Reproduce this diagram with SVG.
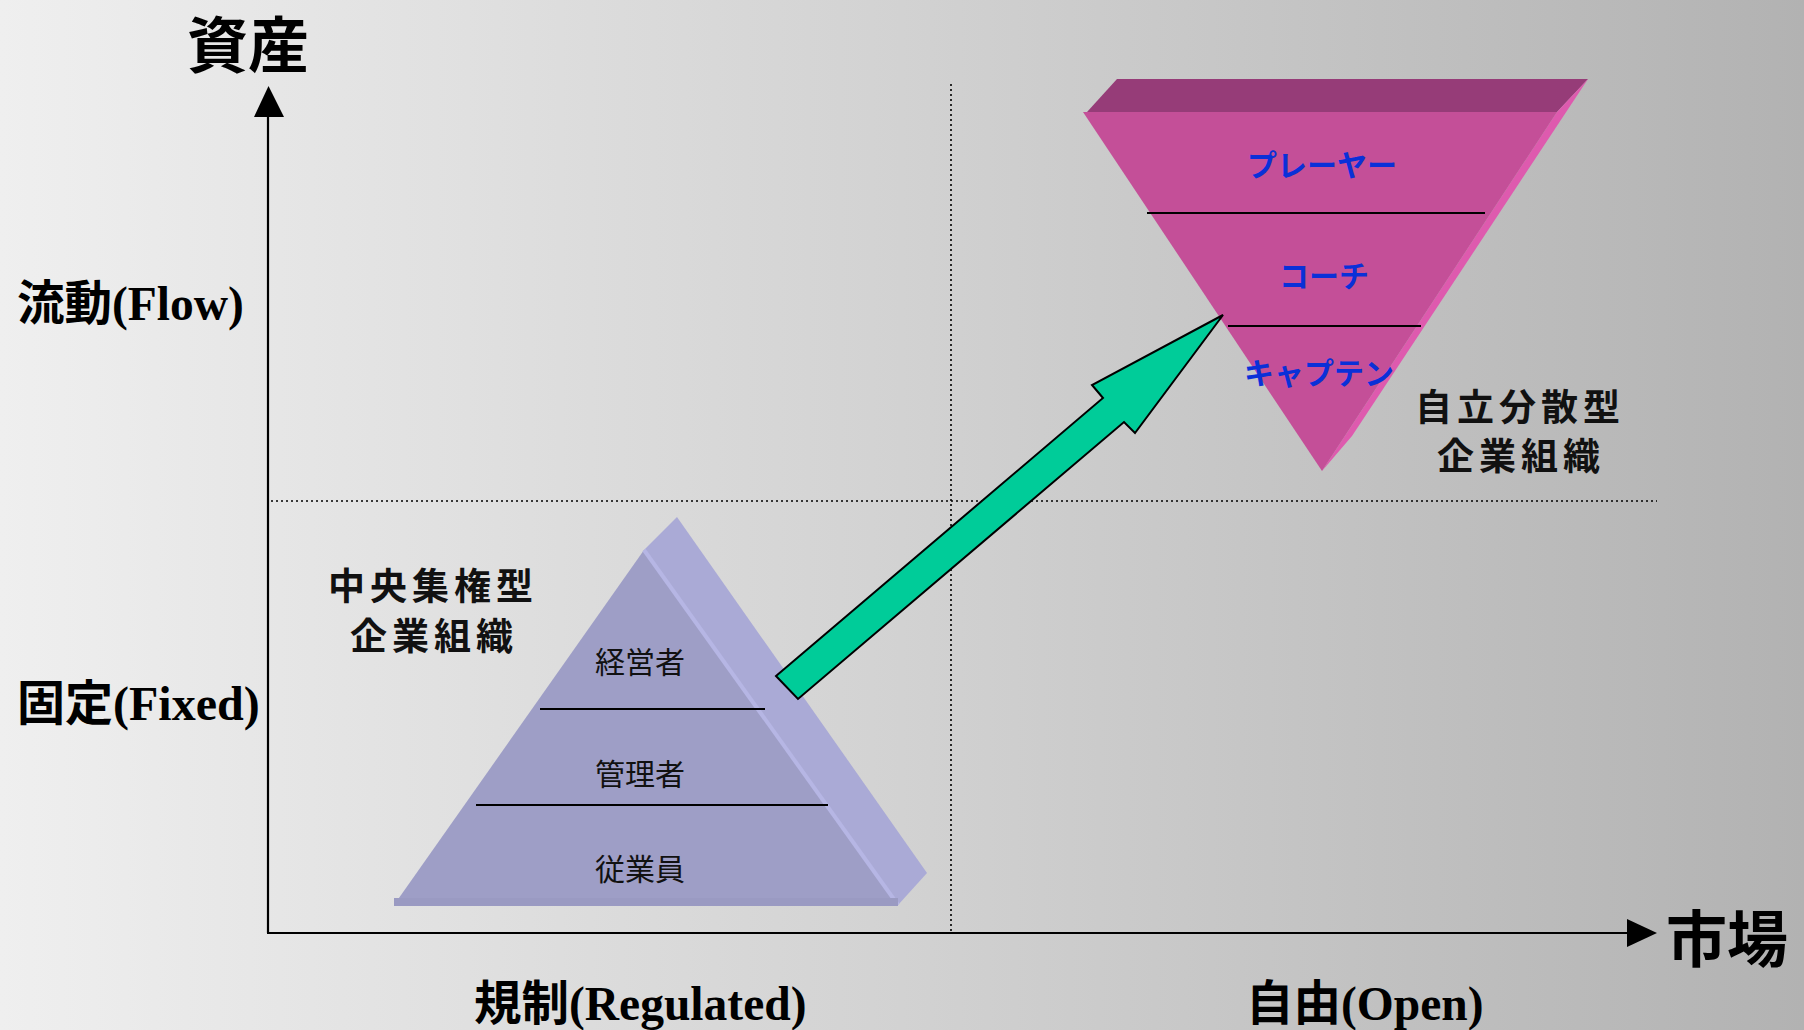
<svg xmlns="http://www.w3.org/2000/svg" width="1804" height="1030" viewBox="0 0 1804 1030">
  <defs>
    <linearGradient id="bg" x1="0" y1="0" x2="1" y2="0">
      <stop offset="0" stop-color="#efefef"/>
      <stop offset="0.5" stop-color="#d2d2d2"/>
      <stop offset="1" stop-color="#b2b2b2"/>
    </linearGradient>
  </defs>
  <style>
    .axis { stroke: #000; stroke-width: 2.2; fill: none; }
    .dot { stroke: #000; stroke-width: 1.6; stroke-dasharray: 2 3; fill: none; }
    .sep { stroke: #000; stroke-width: 2; }
    .lab { font-family: "Liberation Serif", "Noto Sans CJK JP", serif; font-weight: bold; font-size: 47.5px; fill: #000; }
    .big { font-family: "Noto Sans CJK JP", sans-serif; font-weight: bold; font-size: 61px; fill: #000; }
    .type { font-family: "Noto Sans CJK JP", sans-serif; font-weight: bold; font-size: 37px; fill: #111; letter-spacing: 5px; text-anchor: middle; }
    .lvl { font-family: "Noto Sans CJK JP", sans-serif; font-size: 30px; fill: #111; text-anchor: middle; }
    .kata { font-family: "Noto Sans CJK JP", sans-serif; font-weight: bold; font-size: 30px; fill: #0a30d8; text-anchor: middle; }
  </style>
  <rect x="0" y="0" width="1804" height="1030" fill="url(#bg)"/>

  <g id="quadrant-lines">
    <line class="dot" x1="951" y1="84" x2="951" y2="934"/>
    <line class="dot" x1="271" y1="501" x2="1657" y2="501"/>
  </g>

  <g id="axes">
    <line class="axis" x1="268" y1="933" x2="268" y2="112"/>
    <polygon points="254,117 268.5,86 284,117" fill="#000"/>
    <line class="axis" x1="267" y1="933" x2="1630" y2="933"/>
    <polygon points="1627,919 1657,933 1627,947" fill="#000"/>
    <text class="big" x="248" y="68" text-anchor="middle">資産</text>
    <text class="big" x="1666" y="962">市場</text>
    <text class="lab" x="17" y="320">流動(Flow)</text>
    <text class="lab" x="17" y="720" style="font-size:48px">固定(Fixed)</text>
    <text class="lab" x="474" y="1020">規制(Regulated)</text>
    <text class="lab" x="1246" y="1020">自由(Open)</text>
  </g>

  <g id="central-pyramid">
    <polygon points="677,517 927,873 898,905 644,550" fill="#aaaad6"/>
    <polygon points="644,550 394,905 898,905" fill="#9e9ec6"/>
    <line x1="644" y1="550" x2="898" y2="905" stroke="#b6b6e4" stroke-width="4"/>
    <rect x="394" y="898" width="504" height="8" fill="#9a9ac2"/>
    <line class="sep" x1="540" y1="709" x2="765" y2="709"/>
    <line class="sep" x1="476" y1="805" x2="828" y2="805"/>
    <text class="lvl" x="640" y="673">経営者</text>
    <text class="lvl" x="640" y="785">管理者</text>
    <text class="lvl" x="640" y="880">従業員</text>
    <text class="type" x="433" y="600">中央集権型</text>
    <text class="type" x="434" y="650">企業組織</text>
  </g>

  <g id="distributed-pyramid">
    <polygon points="1117,79 1588,79 1557,112 1087,112" fill="#963c78"/>
    <polygon points="1588,79 1352,436 1322,471 1557,112" fill="#de5aae"/>
    <polygon points="1083,112 1557,112 1322,471" fill="#c44f98"/>
    <line class="sep" x1="1147" y1="213" x2="1485" y2="213"/>
    <line class="sep" x1="1228" y1="326" x2="1421" y2="326"/>
    <text class="kata" x="1322" y="176">プレーヤー</text>
    <text class="kata" x="1324" y="287">コーチ</text>
    <text class="kata" x="1319" y="384">キャプテン</text>
    <text class="type" x="1520" y="421">自立分散型</text>
    <text class="type" x="1521" y="470">企業組織</text>
  </g>

  <g id="connectors">
    <polygon points="776,676 1103,398 1092,385 1223,315 1135,433 1124,422 798,699" fill="#00cc99" stroke="#000" stroke-width="2" stroke-linejoin="miter"/>
  </g>
</svg>
